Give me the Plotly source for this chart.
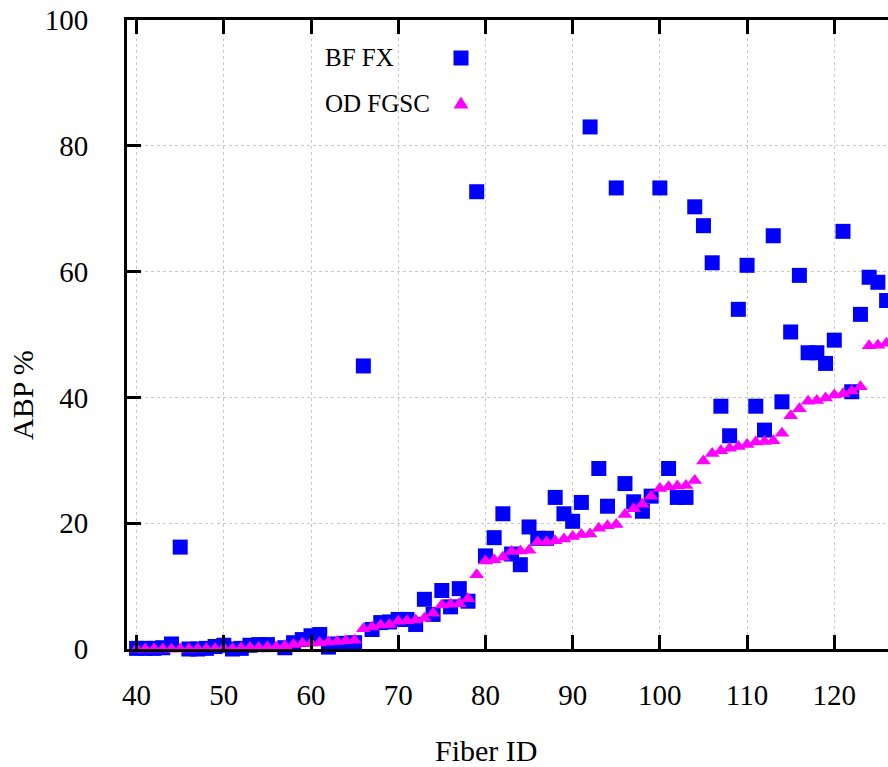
import plotly.graph_objects as go

# ---------------- data ----------------
fiber_id = list(range(40, 127))

bf_fx = [0.1, 0.1, 0.1, 0.2, 0.8, 16.2, 0.0, 0.0, 0.1, 0.4,
         0.6, 0.0, 0.1, 0.6, 0.7, 0.7, -0.1, 0.2, 1.0, 1.5,
         2.1, 2.3, 0.3, 0.8, 0.9, 1.0, 45.0, 3.1, 4.2, 4.3,
         4.7, 4.7, 3.9, 7.9, 5.5, 9.3, 6.7, 9.6, 7.6, 72.7,
         14.8, 17.7, 21.5, 15.1, 13.4, 19.4, 17.6, 17.6, 24.1, 21.5,
         20.3, 23.3, 83.0, 28.7, 22.7, 73.3, 26.3, 23.4, 21.9, 24.3,
         73.3, 28.7, 24.1, 24.1, 70.3, 67.3, 61.4, 38.6, 33.9, 54.0,
         61.0, 38.6, 34.8, 65.7, 39.3, 50.4, 59.4, 47.1, 47.1, 45.4,
         49.1, 66.4, 40.9, 53.2, 59.1, 58.3, 55.4]

od_fgsc = [0.0, 0.0, 0.0, 0.0, 0.0, 0.0, 0.0, 0.0, 0.05, 0.05,
           0.15, 0.05, 0.15, 0.25, 0.25, 0.3, 0.3, 0.5, 0.7, 0.9,
           0.9, 1.0, 1.1, 1.2, 1.3, 1.4, 3.2, 3.5, 3.8, 3.9,
           4.4, 4.5, 4.6, 4.9, 5.7, 7.0, 7.1, 7.2, 8.0, 11.8,
           14.0, 14.2, 14.6, 15.5, 15.6, 15.7, 17.0, 17.0, 17.2, 17.5,
           17.9, 18.2, 18.3, 19.2, 19.6, 19.8, 21.4, 22.3, 23.0, 24.3,
           25.5, 25.8, 25.9, 26.0, 26.8, 29.9, 31.1, 31.5, 31.9, 32.2,
           32.5, 32.9, 33.0, 33.1, 34.3, 37.1, 38.2, 39.4, 39.5, 39.9,
           40.4, 40.6, 41.0, 41.7, 48.2, 48.3, 48.6]

x_ticks = [40, 50, 60, 70, 80, 90, 100, 110, 120]
y_ticks = [0, 20, 40, 60, 80, 100]

series_names = ["BF FX", "OD FGSC"]
BLUE = "#0000ff"
MAGENTA = "#ff00ff"
FONT = "Liberation Serif"

# ---------------- figure ----------------
fig = go.Figure()
fig.add_trace(go.Scatter(
    x=fiber_id, y=bf_fx, mode="markers", name=series_names[0],
    marker=dict(symbol="square", size=15, color=BLUE, line=dict(width=0)),
    cliponaxis=False, showlegend=False))
fig.add_trace(go.Scatter(
    x=fiber_id, y=od_fgsc, mode="markers", name=series_names[1],
    marker=dict(symbol="triangle-up", size=13, color=MAGENTA, line=dict(width=0)),
    cliponaxis=False, showlegend=False))

L, R, T, B = 127, 0, 20, 118
W, H = 888, 767
pw, ph = W - L - R, H - T - B


def px_to_paper(px, py):
    return (px - L) / pw, (H - B - py) / ph


grid = dict(showgrid=True, gridcolor="#c8c8c8", gridwidth=1, griddash="3px,3px")

fig.update_layout(
    width=W, height=H,
    margin=dict(l=L, r=R, t=T, b=B, pad=0),
    plot_bgcolor="white", paper_bgcolor="white",
    font=dict(family=FONT, size=29, color="black"),
    xaxis=dict(range=[38.9, 126.16], tickvals=x_ticks, ticks="inside", ticklen=14,
               tickwidth=3, tickcolor="black", showline=True, linewidth=3,
               linecolor="black", mirror="ticks", zeroline=False,
               ticklabelstandoff=18, tickfont=dict(size=29), **grid),
    yaxis=dict(range=[0, 100], tickvals=y_ticks, ticks="inside", ticklen=14,
               tickwidth=3, tickcolor="black", showline=True, linewidth=3,
               linecolor="black", mirror=False, zeroline=False,
               ticklabelstandoff=30, tickfont=dict(size=29), **grid),
    yaxis2=dict(range=[0, 100], tickvals=y_ticks, overlaying="y", side="right",
                ticks="inside", ticklen=6, tickwidth=3, tickcolor="black",
                showticklabels=False, showgrid=False, showline=False, zeroline=False),
)

# axis titles
fx, fy = px_to_paper(486, 750)
fig.add_annotation(text="Fiber ID", x=fx, y=fy, xref="paper", yref="paper",
                   showarrow=False, font=dict(family=FONT, size=30),
                   xanchor="center", yanchor="middle")
ax, ay = px_to_paper(22, 395)
fig.add_annotation(text="ABP %", x=ax, y=ay, xref="paper", yref="paper",
                   showarrow=False, textangle=-90, font=dict(family=FONT, size=30),
                   xanchor="center", yanchor="middle")

# legend (text left, key right)
for name, ty in [(series_names[0], 57), (series_names[1], 104)]:
    lx, ly = px_to_paper(323, ty)
    fig.add_annotation(text=name, x=lx, y=ly, xref="paper", yref="paper",
                       showarrow=False, font=dict(family=FONT, size=25),
                       xanchor="left", yanchor="middle")

sx, sy = px_to_paper(461, 58)
fig.add_shape(type="rect", xref="paper", yref="paper", xsizemode="pixel",
              ysizemode="pixel", xanchor=sx, yanchor=sy, x0=-7.5, x1=7.5,
              y0=-7.5, y1=7.5, fillcolor=BLUE, line=dict(width=0))
tx, ty = px_to_paper(461, 104)
fig.add_shape(type="path", xref="paper", yref="paper", xsizemode="pixel",
              ysizemode="pixel", xanchor=tx, yanchor=ty,
              path="M -7.5 -4.5 L 7.5 -4.5 L 0 7.5 Z",
              fillcolor=MAGENTA, line=dict(width=0))

fig.write_html(
    "out.html",
    config={"displayModeBar": False},
    post_script="document.body.style.margin='0px';document.body.style.overflow='hidden';",
)
